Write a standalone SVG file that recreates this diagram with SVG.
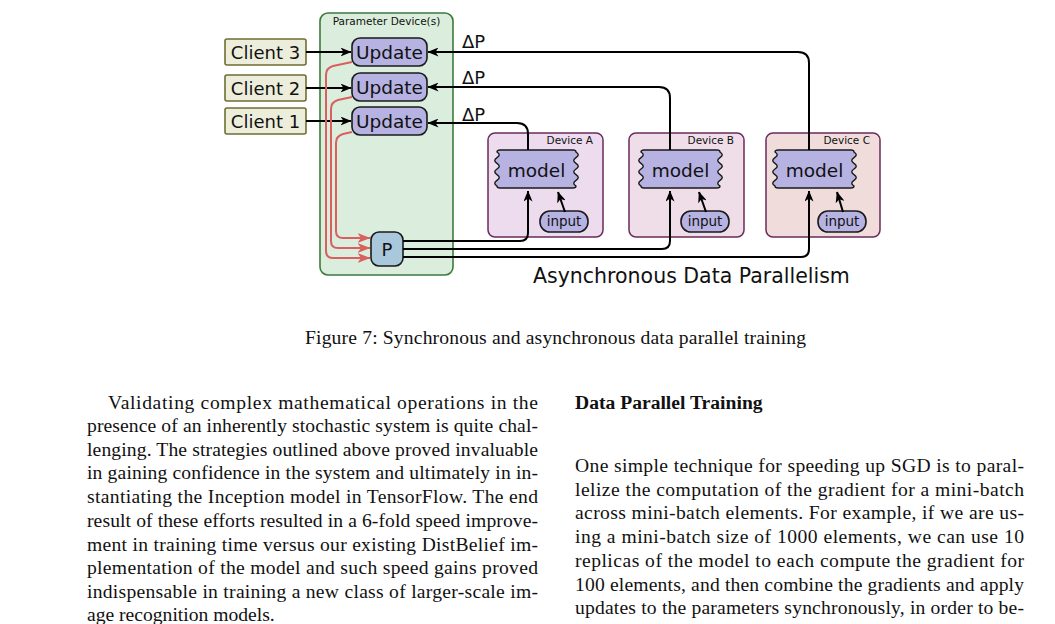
<svg xmlns="http://www.w3.org/2000/svg" xmlns:xlink="http://www.w3.org/1999/xlink" width="1055" height="624" viewBox="0 0 1055 624">
<style>
.sans{font-family:"DejaVu Sans","Liberation Sans",sans-serif;fill:#111}
.serif{font-family:"Liberation Serif","Times New Roman",serif;fill:#111;font-size:19.6px}
.client{fill:#eceedb;stroke:#6e6e32;stroke-width:1.6}
.upd{fill:#b6b2e2;stroke:#1a1a1a;stroke-width:1.6}
.dev{stroke:#6a2a5e;stroke-width:1.5}
.blk{fill:none;stroke:#000;stroke-width:2;marker-end:url(#ab)}
.red{fill:none;stroke:#d9605f;stroke-width:2;marker-end:url(#ar)}
</style>
<defs>
<marker id="ab" markerUnits="userSpaceOnUse" viewBox="0 0 11 9" markerWidth="11" markerHeight="9" refX="10.5" refY="4.5" orient="auto">
<path d="M0,0 L11,4.5 L0,9 L3,4.5 Z" fill="#000"/>
</marker>
<marker id="ar" markerUnits="userSpaceOnUse" viewBox="0 0 13 10" markerWidth="13" markerHeight="10" refX="12.5" refY="5" orient="auto">
<path d="M0,0 L13,5 L0,10 L3.5,5 Z" fill="#d9605f"/>
</marker>
<path id="modelShape" d="M4,0 H77 Q80,0 80,2 q4.5,2.83 0,5.67 q-4.5,2.83 0,5.67 q4.5,2.83 0,5.67 q-4.5,2.83 0,5.67 q4.5,2.83 0,5.67 q-4.5,2.83 0,5.67 Q80,38 77,38 H4 Q1,38 1,36 q-4.5,-2.83 0,-5.67 q4.5,-2.83 0,-5.67 q-4.5,-2.83 0,-5.67 q4.5,-2.83 0,-5.67 q-4.5,-2.83 0,-5.67 q4.5,-2.83 0,-5.67 Q1,0 4,0 Z" fill="#b6b2e2" stroke="#1a1a1a" stroke-width="1.4"/>
</defs>
<rect width="1055" height="624" fill="#fff"/>

<g id="param-device">
<rect x="320" y="13" width="133" height="262" rx="8" fill="#dbeedd" stroke="#3c7a3c" stroke-width="1.6"/>
<text class="sans" x="386.5" y="25" font-size="10.5" text-anchor="middle">Parameter Device(s)</text>
</g>

<g id="client3"><rect class="client" x="225" y="39" width="81" height="26" rx="2"/><text class="sans" x="265.5" y="58.5" font-size="18" text-anchor="middle">Client 3</text></g>
<g id="client2"><rect class="client" x="225" y="75" width="81" height="26" rx="2"/><text class="sans" x="265.5" y="94.5" font-size="18" text-anchor="middle">Client 2</text></g>
<g id="client1"><rect class="client" x="225" y="108" width="81" height="26" rx="2"/><text class="sans" x="265.5" y="127.5" font-size="18" text-anchor="middle">Client 1</text></g>

<g id="update3"><rect class="upd" x="352" y="38" width="75" height="28" rx="8"/><text class="sans" x="389.5" y="58.5" font-size="18.5" text-anchor="middle">Update</text></g>
<g id="update2"><rect class="upd" x="352" y="73" width="75" height="28" rx="8"/><text class="sans" x="389.5" y="93.5" font-size="18.5" text-anchor="middle">Update</text></g>
<g id="update1"><rect class="upd" x="352" y="107" width="75" height="28" rx="8"/><text class="sans" x="389.5" y="127.5" font-size="18.5" text-anchor="middle">Update</text></g>

<g id="P"><rect x="371" y="232" width="32" height="34" rx="8" fill="#a9c8dc" stroke="#1a1a1a" stroke-width="1.6"/><text class="sans" x="387" y="255.5" font-size="18" text-anchor="middle">P</text></g>

<g id="deviceA">
<rect class="dev" x="488" y="133" width="115" height="104" rx="7" fill="#eddbee"/>
<text class="sans" x="593" y="144" font-size="10.5" text-anchor="end">Device A</text>
<use xlink:href="#modelShape" x="496" y="150"/>
<text class="sans" x="536.5" y="176.5" font-size="18.5" text-anchor="middle">model</text>
<rect class="upd" x="540" y="211" width="48" height="21" rx="10"/>
<text class="sans" x="564" y="226" font-size="13.5" text-anchor="middle">input</text>
</g>
<g id="deviceB">
<rect class="dev" x="629" y="133" width="115" height="104" rx="7" fill="#efdde8"/>
<text class="sans" x="734" y="144" font-size="10.5" text-anchor="end">Device B</text>
<use xlink:href="#modelShape" x="640" y="150"/>
<text class="sans" x="680.5" y="176.5" font-size="18.5" text-anchor="middle">model</text>
<rect class="upd" x="681" y="211" width="48" height="21" rx="10"/>
<text class="sans" x="705" y="226" font-size="13.5" text-anchor="middle">input</text>
</g>
<g id="deviceC">
<rect class="dev" x="766" y="133" width="114" height="104" rx="7" fill="#f0dddb"/>
<text class="sans" x="870" y="144" font-size="10.5" text-anchor="end">Device C</text>
<use xlink:href="#modelShape" x="774" y="150"/>
<text class="sans" x="814.5" y="176.5" font-size="18.5" text-anchor="middle">model</text>
<rect class="upd" x="818" y="211" width="48" height="21" rx="10"/>
<text class="sans" x="842" y="226" font-size="13.5" text-anchor="middle">input</text>
</g>

<g id="connectors">
<path class="blk" d="M306,52 H351"/>
<path class="blk" d="M306,88 H351"/>
<path class="blk" d="M306,121 H351"/>
<path class="red" d="M352,62 L333,66 Q326,68 326,75 V251 Q326,258 333,258 H370"/>
<path class="red" d="M352,97 L338,100 Q331,102 331,109 V241 Q331,248 338,248 H370"/>
<path class="red" d="M352,132 L343,134 Q336,136 336,143 V231 Q336,238 343,238 H370"/>
<path class="blk" d="M403,241 H520 Q528,241 528,233 V191"/>
<path class="blk" d="M403,249 H662 Q670,249 670,241 V191"/>
<path class="blk" d="M403,257 H801 Q809,257 809,249 V191"/>
<path class="blk" d="M528,150 V134 Q528,123 517,123 H428"/>
<path class="blk" d="M670,150 V98 Q670,87 659,87 H428"/>
<path class="blk" d="M809,150 V63 Q809,52 798,52 H428"/>
<path class="blk" d="M565,212 L558,192"/>
<path class="blk" d="M706,212 L699,192"/>
<path class="blk" d="M843,212 L837,192"/>
</g>

<g id="labels">
<text class="sans" x="462" y="48" font-size="18">ΔP</text>
<text class="sans" x="462" y="84" font-size="18">ΔP</text>
<text class="sans" x="462" y="121" font-size="18">ΔP</text>
<text class="sans" x="533" y="283" font-size="20.5">Asynchronous Data Parallelism</text>
</g>

<g id="caption">
<text class="serif" x="305" y="344" font-size="19" textLength="501" lengthAdjust="spacing">Figure 7: Synchronous and asynchronous data parallel training</text>
</g>

<g id="left-column">
<text class="serif" x="108" y="409" textLength="430" lengthAdjust="spacing">Validating complex mathematical operations in the</text>
<text class="serif" x="87" y="432" textLength="451" lengthAdjust="spacing">presence of an inherently stochastic system is quite chal-</text>
<text class="serif" x="87" y="456" textLength="451" lengthAdjust="spacing">lenging. The strategies outlined above proved invaluable</text>
<text class="serif" x="87" y="479" textLength="451" lengthAdjust="spacing">in gaining confidence in the system and ultimately in in-</text>
<text class="serif" x="87" y="503" textLength="451" lengthAdjust="spacing">stantiating the Inception model in TensorFlow. The end</text>
<text class="serif" x="87" y="527" textLength="451" lengthAdjust="spacing">result of these efforts resulted in a 6-fold speed improve-</text>
<text class="serif" x="87" y="551" textLength="451" lengthAdjust="spacing">ment in training time versus our existing DistBelief im-</text>
<text class="serif" x="87" y="574" textLength="451" lengthAdjust="spacing">plementation of the model and such speed gains proved</text>
<text class="serif" x="87" y="598" textLength="451" lengthAdjust="spacing">indispensable in training a new class of larger-scale im-</text>
<text class="serif" x="87" y="621">age recognition models.</text>
</g>

<g id="right-column">
<text class="serif" x="575" y="409" font-weight="bold">Data Parallel Training</text>
<text class="serif" x="575" y="472" textLength="449" lengthAdjust="spacing">One simple technique for speeding up SGD is to paral-</text>
<text class="serif" x="575" y="496" textLength="449" lengthAdjust="spacing">lelize the computation of the gradient for a mini-batch</text>
<text class="serif" x="575" y="519" textLength="449" lengthAdjust="spacing">across mini-batch elements. For example, if we are us-</text>
<text class="serif" x="575" y="543" textLength="449" lengthAdjust="spacing">ing a mini-batch size of 1000 elements, we can use 10</text>
<text class="serif" x="575" y="567" textLength="449" lengthAdjust="spacing">replicas of the model to each compute the gradient for</text>
<text class="serif" x="575" y="591" textLength="449" lengthAdjust="spacing">100 elements, and then combine the gradients and apply</text>
<text class="serif" x="575" y="614" textLength="449" lengthAdjust="spacing">updates to the parameters synchronously, in order to be-</text>
</g>
</svg>
